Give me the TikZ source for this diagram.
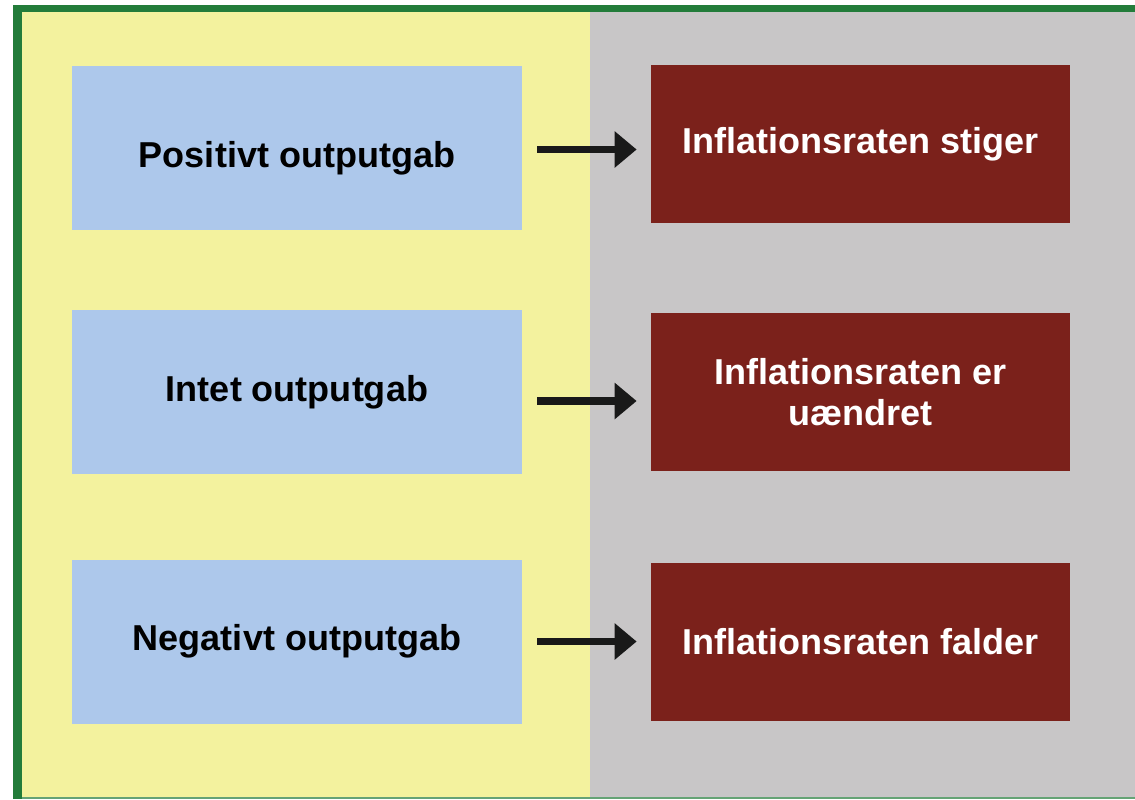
\documentclass[tikz,border=0pt]{standalone}
\usepackage{fontspec}
\setmainfont{Liberation Sans}
\usetikzlibrary{arrows.meta}
\definecolor{framegreen}{RGB}{35,124,58}
\definecolor{leftyellow}{RGB}{243,242,158}
\definecolor{rightgray}{RGB}{200,198,199}
\definecolor{causeblue}{RGB}{173,200,235}
\definecolor{effectred}{RGB}{123,33,27}
\tikzset{
	causebox/.style={fill=causeblue, minimum width=9cm, minimum height=3.28cm, inner sep=0pt,
		text=black, font=\bfseries\fontsize{20.5}{23.3}\selectfont},
	effectbox/.style={fill=effectred, minimum width=8.38cm, minimum height=3.16cm, inner sep=0pt,
		text=white, align=center, font=\bfseries\fontsize{20.5}{23.3}\selectfont},
	leadsto/.style={line width=4pt, -{Triangle[length=12.5pt,width=20pt]},
		shorten <=8.5pt, shorten >=8pt, color=black!90}
}

\begin{document}
\begin{tikzpicture}[x=0.02cm, y=-0.02cm]
			%%%%% START %%%%%
			
			\useasboundingbox (0, 0) rectangle (1135, 799);
			
			% background halves
			\fill[leftyellow] (22, 12) rectangle (590, 797);
			\fill[rightgray] (590, 12) rectangle (1135, 797);
			
			% frame
			\fill[framegreen] (13, 5) rectangle (22, 799);
			\fill[framegreen] (13, 5) rectangle (1135, 12);
			\fill[framegreen!70] (22, 797) rectangle (1135, 799);
			
			% causes
			\node[causebox, text height=22pt, text depth=0pt] (positiv) at (297, 148) {Positivt outputgab};
			\node[causebox] (intet) at (297, 392) {Intet outputgab};
			\node[causebox] (negativ) at (297, 641.5) {Negativt outputgab};
			
			% effects
			\node[effectbox] (stiger) at (860.5, 144) {Inflationsraten stiger};
			\node[effectbox] (uaendret) at (860.5, 392) {Inflationsraten er\\u\ae ndret};
			\node[effectbox] (falder) at (860.5, 641.5) {Inflationsraten falder};
			
			\draw[leadsto] ([yshift=-0.03cm]positiv.east) -- ([yshift=-0.03cm]positiv.east -| stiger.west);
			\draw[leadsto] ([yshift=-0.18cm]intet.east) -- ([yshift=-0.18cm]uaendret.west);
			\draw[leadsto] (negativ.east) -- (falder.west);
			
			%%%%% END %%%%%
		\end{tikzpicture}
\end{document}
